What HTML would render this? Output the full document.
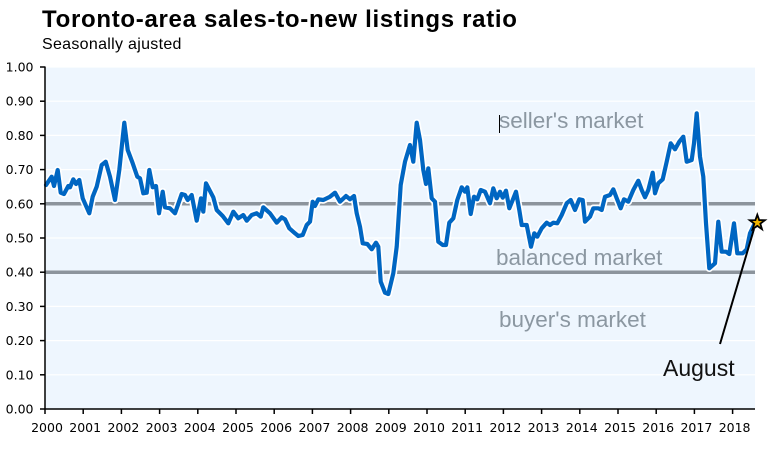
<!DOCTYPE html>
<html><head><meta charset="utf-8"><style>
html,body{margin:0;padding:0;background:#fff;}
svg{display:block;}
</style></head><body>
<svg width="771" height="450" viewBox="0 0 771 450" xmlns="http://www.w3.org/2000/svg">
<rect x="0" y="0" width="771" height="450" fill="#ffffff"/>
<text x="42" y="27" font-family="Liberation Sans, sans-serif" font-weight="bold" font-size="24" letter-spacing="0.7" fill="#000">Toronto-area sales-to-new listings ratio</text>
<text x="42" y="49" font-family="Liberation Sans, sans-serif" font-size="16" letter-spacing="0.3" fill="#000">Seasonally ajusted</text>
<rect x="45" y="67" width="710" height="342" fill="#eef6fe"/>
<g stroke="#ffffff" stroke-width="1.2">
<line x1="45" y1="67" x2="755" y2="67"/>
<line x1="45" y1="101.2" x2="755" y2="101.2"/>
<line x1="45" y1="135.4" x2="755" y2="135.4"/>
<line x1="45" y1="169.6" x2="755" y2="169.6"/>
<line x1="45" y1="238" x2="755" y2="238"/>
<line x1="45" y1="306.4" x2="755" y2="306.4"/>
<line x1="45" y1="340.6" x2="755" y2="340.6"/>
<line x1="45" y1="374.8" x2="755" y2="374.8"/>
</g>
<g stroke="#8c949c" stroke-width="3.5">
<line x1="45" y1="203.8" x2="755" y2="203.8"/>
<line x1="45" y1="272.2" x2="755" y2="272.2"/>
</g>
<g font-family="Liberation Sans, sans-serif" font-size="22.5" fill="#8b97a1">
<text x="499" y="128">seller's market</text>
<text x="496" y="265">balanced market</text>
<text x="499" y="327">buyer's market</text>
</g>
<line x1="499.5" y1="115" x2="499.5" y2="133" stroke="#000" stroke-width="1"/>
<polyline fill="none" stroke="#ffffff" stroke-width="7.5" stroke-linejoin="round" stroke-linecap="round" points="46,185 51.7,176.7 54,186 57.7,170 60.7,192.7 64,194 68.3,186 70,187.3 73.3,179.3 76,184 79.3,180 82.7,198.3 89.3,213.3 92.7,196.7 96.7,186.7 101.7,165 105.7,161.7 110,176.7 115,200 119.3,170 124.3,122.7 127.7,150 132.7,163.3 137.3,176.7 140,178.3 143.3,193.3 146.7,192.7 149.3,170 152.7,187.3 156,186 159,213.3 162.7,191.7 165,207.3 170,208.3 175,213.3 181.7,194 185,195 187.7,200 191.7,195 196.7,220.7 201,198.3 203.3,211.7 206,183.3 213.3,197.3 216.7,210 222.7,216 228.3,223.3 233.3,211.7 238.3,218.3 243.3,215 246.7,220.7 251.7,215 256.7,213.3 260.7,216.7 263.3,207.3 270,213.3 276.7,222.7 281.7,217.3 285,219.3 289.3,228.3 295,233.3 298.3,236 302.7,235 306.7,225 310,221.7 312.7,201.7 315,206 318.3,199.3 323.3,200 330,196.7 335,192.7 340,201.7 346,196 350,199.3 354,196 356.7,213.3 360,226.7 362.7,243.3 367.3,244 371.7,249.3 376,242.7 378.3,246.7 380.7,281.7 385,292.7 388.3,294 393.3,273.3 396.7,246.7 400.7,185 405,161.7 410,145 413.3,161.7 416.7,122.7 420,140 423.3,170 426,184 428.3,168.3 431.7,198.3 435,201.7 438.3,241.7 442.7,245 446,245 449.3,222.7 453.3,218.3 457.3,200 461.7,187.3 465,191.7 467.3,187.3 470.7,214 474,196.7 477.3,199.3 480.7,190 485,191.7 490,203.3 493.3,188.3 496.7,198.3 500,191.7 502.7,197.7 506,190.7 509.3,208.3 512.7,200 516,191.7 519.3,210 521.7,225 526.7,225 531,246.7 534.3,233.3 537.3,236.7 541.7,228.3 546.7,222.7 550,225 553.3,222.7 557.3,223.3 561.7,215 566.7,203.3 570.7,200 575,210 579.3,199.3 582.7,200 585,221.7 590,216.7 593.3,208.3 598.3,208.3 601.7,210 605,196.7 610,195 613.3,189.3 616.7,198.3 620.7,208.3 624,199.3 628.3,201.7 633.3,190 638.3,180.7 641.7,190 645,197.3 648.3,190 652.7,172.7 655,193.3 658.3,183.3 662.7,179.3 666.7,161.7 670.7,143.3 675,149.3 679.3,141.7 683.3,136.7 686.7,161.7 691.7,160 694,143.3 696.7,113.3 700,156.7 703.3,176.7 706,223.3 709.3,268.3 715,263.3 718.3,221.7 721.7,251.7 726,251.7 729.3,254 734,223.3 737.3,253.3 742.7,253.3 746.7,249.3 750,233.3 754,225"/>
<polyline fill="none" stroke="#0066c2" stroke-width="4.2" stroke-linejoin="round" stroke-linecap="round" points="46,185 51.7,176.7 54,186 57.7,170 60.7,192.7 64,194 68.3,186 70,187.3 73.3,179.3 76,184 79.3,180 82.7,198.3 89.3,213.3 92.7,196.7 96.7,186.7 101.7,165 105.7,161.7 110,176.7 115,200 119.3,170 124.3,122.7 127.7,150 132.7,163.3 137.3,176.7 140,178.3 143.3,193.3 146.7,192.7 149.3,170 152.7,187.3 156,186 159,213.3 162.7,191.7 165,207.3 170,208.3 175,213.3 181.7,194 185,195 187.7,200 191.7,195 196.7,220.7 201,198.3 203.3,211.7 206,183.3 213.3,197.3 216.7,210 222.7,216 228.3,223.3 233.3,211.7 238.3,218.3 243.3,215 246.7,220.7 251.7,215 256.7,213.3 260.7,216.7 263.3,207.3 270,213.3 276.7,222.7 281.7,217.3 285,219.3 289.3,228.3 295,233.3 298.3,236 302.7,235 306.7,225 310,221.7 312.7,201.7 315,206 318.3,199.3 323.3,200 330,196.7 335,192.7 340,201.7 346,196 350,199.3 354,196 356.7,213.3 360,226.7 362.7,243.3 367.3,244 371.7,249.3 376,242.7 378.3,246.7 380.7,281.7 385,292.7 388.3,294 393.3,273.3 396.7,246.7 400.7,185 405,161.7 410,145 413.3,161.7 416.7,122.7 420,140 423.3,170 426,184 428.3,168.3 431.7,198.3 435,201.7 438.3,241.7 442.7,245 446,245 449.3,222.7 453.3,218.3 457.3,200 461.7,187.3 465,191.7 467.3,187.3 470.7,214 474,196.7 477.3,199.3 480.7,190 485,191.7 490,203.3 493.3,188.3 496.7,198.3 500,191.7 502.7,197.7 506,190.7 509.3,208.3 512.7,200 516,191.7 519.3,210 521.7,225 526.7,225 531,246.7 534.3,233.3 537.3,236.7 541.7,228.3 546.7,222.7 550,225 553.3,222.7 557.3,223.3 561.7,215 566.7,203.3 570.7,200 575,210 579.3,199.3 582.7,200 585,221.7 590,216.7 593.3,208.3 598.3,208.3 601.7,210 605,196.7 610,195 613.3,189.3 616.7,198.3 620.7,208.3 624,199.3 628.3,201.7 633.3,190 638.3,180.7 641.7,190 645,197.3 648.3,190 652.7,172.7 655,193.3 658.3,183.3 662.7,179.3 666.7,161.7 670.7,143.3 675,149.3 679.3,141.7 683.3,136.7 686.7,161.7 691.7,160 694,143.3 696.7,113.3 700,156.7 703.3,176.7 706,223.3 709.3,268.3 715,263.3 718.3,221.7 721.7,251.7 726,251.7 729.3,254 734,223.3 737.3,253.3 742.7,253.3 746.7,249.3 750,233.3 754,225"/>
<line x1="754" y1="229" x2="720" y2="344" stroke="#000" stroke-width="2"/>
<polygon points="757.3,214.7 759.2,220.1 764.9,220.2 760.3,223.7 762,229.2 757.3,225.9 752.6,229.2 754.3,223.7 749.7,220.2 755.4,220.1" fill="#f0b400" stroke="#000" stroke-width="1.8" stroke-linejoin="miter"/>
<text x="663" y="376" font-family="Liberation Sans, sans-serif" font-size="23" fill="#111">August</text>
<g stroke="#000" stroke-width="1.5">
<line x1="45" y1="66.5" x2="45" y2="409.5"/>
<line x1="44.3" y1="409" x2="755" y2="409"/>
<line x1="40" y1="67" x2="45" y2="67"/>
<line x1="40" y1="101.2" x2="45" y2="101.2"/>
<line x1="40" y1="135.4" x2="45" y2="135.4"/>
<line x1="40" y1="169.6" x2="45" y2="169.6"/>
<line x1="40" y1="203.8" x2="45" y2="203.8"/>
<line x1="40" y1="238" x2="45" y2="238"/>
<line x1="40" y1="272.2" x2="45" y2="272.2"/>
<line x1="40" y1="306.4" x2="45" y2="306.4"/>
<line x1="40" y1="340.6" x2="45" y2="340.6"/>
<line x1="40" y1="374.8" x2="45" y2="374.8"/>
<line x1="40" y1="409" x2="45" y2="409"/>
<line x1="45" y1="409" x2="45" y2="414"/>
<line x1="83.2" y1="409" x2="83.2" y2="414"/>
<line x1="121.4" y1="409" x2="121.4" y2="414"/>
<line x1="159.6" y1="409" x2="159.6" y2="414"/>
<line x1="197.8" y1="409" x2="197.8" y2="414"/>
<line x1="236" y1="409" x2="236" y2="414"/>
<line x1="274.2" y1="409" x2="274.2" y2="414"/>
<line x1="312.4" y1="409" x2="312.4" y2="414"/>
<line x1="350.6" y1="409" x2="350.6" y2="414"/>
<line x1="388.8" y1="409" x2="388.8" y2="414"/>
<line x1="427" y1="409" x2="427" y2="414"/>
<line x1="465.2" y1="409" x2="465.2" y2="414"/>
<line x1="503.4" y1="409" x2="503.4" y2="414"/>
<line x1="541.6" y1="409" x2="541.6" y2="414"/>
<line x1="579.8" y1="409" x2="579.8" y2="414"/>
<line x1="618" y1="409" x2="618" y2="414"/>
<line x1="656.2" y1="409" x2="656.2" y2="414"/>
<line x1="694.4" y1="409" x2="694.4" y2="414"/>
<line x1="732.6" y1="409" x2="732.6" y2="414"/>
</g>
<g font-family="DejaVu Sans, sans-serif" font-size="12.5" fill="#000" text-anchor="end">
<text x="33.5" y="71.5">1.00</text>
<text x="33.5" y="105.7">0.90</text>
<text x="33.5" y="139.9">0.80</text>
<text x="33.5" y="174.1">0.70</text>
<text x="33.5" y="208.3">0.60</text>
<text x="33.5" y="242.5">0.50</text>
<text x="33.5" y="276.7">0.40</text>
<text x="33.5" y="310.9">0.30</text>
<text x="33.5" y="345.1">0.20</text>
<text x="33.5" y="379.3">0.10</text>
<text x="33.5" y="413.5">0.00</text>
</g>
<g font-family="DejaVu Sans, sans-serif" font-size="12.5" fill="#000" text-anchor="middle">
<text x="47" y="432">2000</text>
<text x="85.2" y="432">2001</text>
<text x="123.4" y="432">2002</text>
<text x="161.6" y="432">2003</text>
<text x="199.8" y="432">2004</text>
<text x="238" y="432">2005</text>
<text x="276.2" y="432">2006</text>
<text x="314.4" y="432">2007</text>
<text x="352.6" y="432">2008</text>
<text x="390.8" y="432">2009</text>
<text x="429" y="432">2010</text>
<text x="467.2" y="432">2011</text>
<text x="505.4" y="432">2012</text>
<text x="543.6" y="432">2013</text>
<text x="581.8" y="432">2014</text>
<text x="620" y="432">2015</text>
<text x="658.2" y="432">2016</text>
<text x="696.4" y="432">2017</text>
<text x="734.6" y="432">2018</text>
</g>
</svg>
</body></html>
